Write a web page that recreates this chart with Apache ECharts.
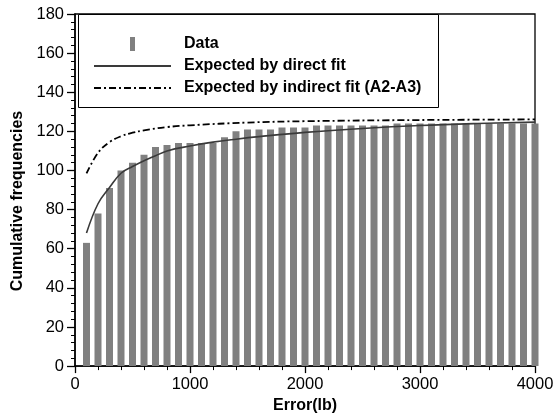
<!DOCTYPE html>
<html>
<head>
<meta charset="utf-8">
<script src="https://cdn.jsdelivr.net/npm/echarts@6/dist/echarts.min.js"></script>
<style>html,body{margin:0;padding:0;background:#fff}#c{width:560px;height:419px}</style>
</head>
<body>
<div id="c"></div>
<script>
// Data bars (x in lb, cumulative frequency)
var barX = [100,200,300,400,500,600,700,800,900,1000,1100,1200,1300,1400,1500,1600,1700,1800,1900,2000,
            2100,2200,2300,2400,2500,2600,2700,2800,2900,3000,3100,3200,3300,3400,3500,3600,3700,3800,3900,4000];
var barY = [63,78,91,100,104,108,112,113,114,114,114,114,117,120,121,121,121,122,122,122,
            123,123,123,123,123,123,123,124,124,124,124,124,124,124,124,124,124,124,124,124];
// Expected by direct fit
var directX = [100,200,300,400,500,600,700,800,1000,1200,1400,1600,2000,2500,3000,3500,4000];
var directY = [68,83,91.3,98.6,102,105,107.5,110,112.5,114.5,116,117.3,119.5,121.5,123,124,124.7];
// Expected by indirect fit (A2-A3)
var indirectX = [100,200,300,400,500,600,800,1000,1500,2000,3000,4000];
var indirectY = [98.5,109,114.5,117.5,119.3,120.5,122.2,123.1,124.5,125.2,125.8,126.1];
var legendNames = ['Data','Expected by direct fit','Expected by indirect fit (A2-A3)'];
var xTitle = 'Error(lb)';
var yTitle = 'Cumulative frequencies';

function zip(a,b){return a.map(function(v,i){return [v,b[i]];});}

var chart = echarts.init(document.getElementById('c'), null, {renderer:'canvas'});
var font = 'Liberation Sans, Arial, sans-serif';
var hidden = {opacity:0,color:'rgba(0,0,0,0)',borderWidth:0};
chart.setOption({
  animation:false,
  backgroundColor:'#fff',
  textStyle:{fontFamily:font},
  grid:{left:75,right:25,top:14,bottom:51,show:true,borderColor:'#000',borderWidth:1.3,backgroundColor:'transparent'},
  graphic:[{type:'rect',left:78,top:14,shape:{width:360,height:93},style:{fill:'#fff',stroke:'#000',lineWidth:1},z:50}],
  legend:{
    orient:'vertical',left:93,top:36,padding:0,itemWidth:77,itemHeight:14,itemGap:6,z:60,
    textStyle:{fontFamily:font,fontWeight:'bold',fontSize:16,color:'#000',padding:[0,0,0,8]},
    data:[
      {name:legendNames[0],icon:'path://M0,0h5v14h-5z'},
      {name:legendNames[1],itemStyle:hidden},
      {name:legendNames[2],itemStyle:hidden}
    ]
  },
  xAxis:{
    type:'value',min:0,max:4000,interval:1000,
    name:xTitle,nameLocation:'middle',nameGap:31,
    nameTextStyle:{fontFamily:font,fontWeight:'bold',fontSize:16,color:'#000'},
    axisLine:{onZero:false,lineStyle:{color:'#000',width:1.5}},
    axisTick:{length:7,lineStyle:{color:'#000',width:1.3}},
    minorTick:{show:true,splitNumber:5,length:4,lineStyle:{color:'#000',width:1}},
    axisLabel:{margin:10,fontSize:16.5,color:'#000',fontFamily:font,formatter:function(v){return String(v);}},
    splitLine:{show:false}
  },
  yAxis:{
    type:'value',min:0,max:180,interval:20,
    name:yTitle,nameLocation:'middle',nameGap:43,
    nameTextStyle:{fontFamily:font,fontWeight:'bold',fontSize:16,color:'#000',padding:[0,22,0,0]},
    axisLine:{show:true,lineStyle:{color:'#000',width:1.5}},
    axisTick:{show:true,length:8,lineStyle:{color:'#000',width:1.3}},
    minorTick:{show:true,splitNumber:5,length:4,lineStyle:{color:'#000',width:1}},
    axisLabel:{margin:11,fontSize:16.5,color:'#000',fontFamily:font},
    splitLine:{show:false}
  },
  series:[
    {name:legendNames[0],type:'bar',data:zip(barX,barY),barWidth:7,itemStyle:{color:'#808080'},z:2},
    {name:legendNames[1],type:'line',data:zip(directX,directY),smooth:0.4,showSymbol:false,symbol:'emptyCircle',
     lineStyle:{color:'#3a3a3a',width:1.6},itemStyle:{color:'#3a3a3a'},z:3},
    {name:legendNames[2],type:'line',data:zip(indirectX,indirectY),smooth:0.4,showSymbol:false,symbol:'emptyCircle',
     lineStyle:{color:'#000',width:1.8,type:[7,3,2,3]},itemStyle:{color:'#000'},z:3}
  ]
});
</script>
</body>
</html>
